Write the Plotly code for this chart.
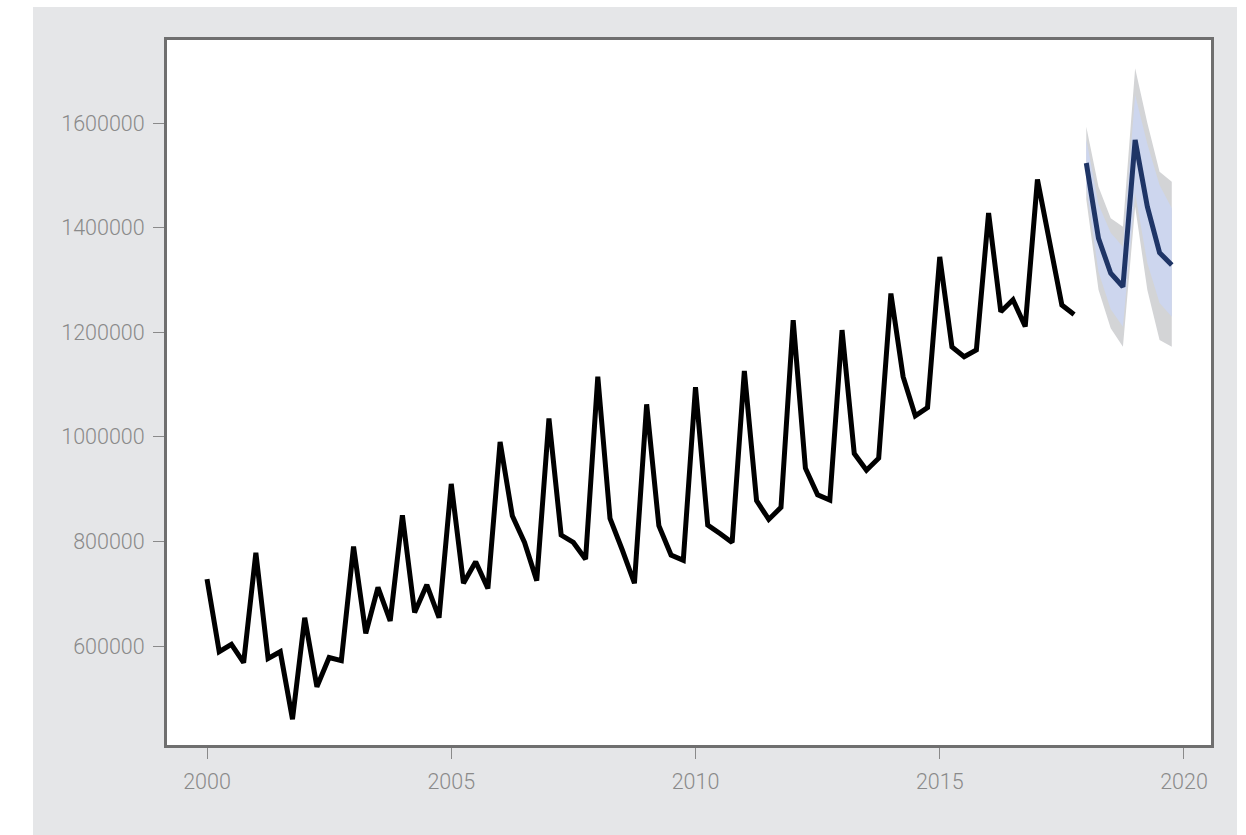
import plotly.graph_objects as go

# Quarterly history, 2000 Q1 - 2017 Q4
start_year = 2000
history = [
    728000, 589000, 603000, 568000,
    778000, 576000, 589000, 460000,
    654000, 522000, 578000, 572000,
    790000, 624000, 712000, 648000,
    850000, 664000, 717000, 654000,
    910000, 720000, 761000, 710000,
    990000, 849000, 798000, 725000,
    1035000, 812000, 798000, 766000,
    1115000, 844000, 784000, 720000,
    1062000, 830000, 774000, 764000,
    1095000, 831000, 815000, 798000,
    1126000, 878000, 842000, 865000,
    1223000, 940000, 889000, 879000,
    1204000, 968000, 936000, 959000,
    1274000, 1115000, 1040000, 1056000,
    1344000, 1172000, 1153000, 1166000,
    1428000, 1239000, 1262000, 1211000,
    1492000, 1372000, 1252000, 1234000,
]

# Forecast 2018 Q1 - 2019 Q4 with 80% and 95% intervals
fc_mean = [1523500, 1379500, 1312600, 1287000, 1567500, 1440000, 1352000, 1328500]
fc_lo80 = [1478000, 1315000, 1244000, 1210600, 1466000, 1332300, 1255800, 1229700]
fc_hi80 = [1569000, 1444000, 1390000, 1363500, 1653500, 1560000, 1481500, 1436900]
fc_lo95 = [1454000, 1281000, 1207500, 1172300, 1440000, 1280700, 1185100, 1172300]
fc_hi95 = [1593000, 1478000, 1417700, 1401800, 1704600, 1600000, 1506900, 1487800]

x_ticks = [2000, 2005, 2010, 2015, 2020]
y_ticks = [600000, 800000, 1000000, 1200000, 1400000, 1600000]

x_hist = [start_year + i / 4 for i in range(len(history))]
x_fc = [start_year + (len(history) + i) / 4 for i in range(len(fc_mean))]

GRAY_BAND = "#d3d4d6"
BLUE_BAND = "#cdd6ee"
NAVY = "#1f3566"
FRAME = "#6f6f6f"
LABEL = "#8a8a8a"

fig = go.Figure()

# 95% interval
fig.add_trace(go.Scatter(x=x_fc, y=fc_lo95, mode="lines", line=dict(width=0),
                         hoverinfo="skip", showlegend=False))
fig.add_trace(go.Scatter(x=x_fc, y=fc_hi95, mode="lines", line=dict(width=0),
                         fill="tonexty", fillcolor=GRAY_BAND,
                         hoverinfo="skip", showlegend=False))
# 80% interval
fig.add_trace(go.Scatter(x=x_fc, y=fc_lo80, mode="lines", line=dict(width=0),
                         hoverinfo="skip", showlegend=False))
fig.add_trace(go.Scatter(x=x_fc, y=fc_hi80, mode="lines", line=dict(width=0),
                         fill="tonexty", fillcolor=BLUE_BAND,
                         hoverinfo="skip", showlegend=False))
# point forecast
fig.add_trace(go.Scatter(x=x_fc, y=fc_mean, mode="lines",
                         line=dict(color=NAVY, width=5), showlegend=False))
# observed series
fig.add_trace(go.Scatter(x=x_hist, y=history, mode="lines",
                         line=dict(color="black", width=5), showlegend=False))

W, H = 1246, 835
L, R, T, B = 167, 1211, 40, 745
pw, ph = R - L, B - T


def px_x(p):
    return (p - L) / pw


def px_y(p):
    return (B - p) / ph


fig.add_shape(type="rect", xref="paper", yref="paper",
              x0=px_x(33), x1=px_x(1237), y0=px_y(835), y1=px_y(7),
              fillcolor="#e5e6e8", line=dict(width=0), layer="below")
fig.add_shape(type="rect", xref="paper", yref="paper",
              x0=0, x1=1, y0=0, y1=1,
              fillcolor="white", line=dict(width=0), layer="below")

tick_font = dict(family="Roboto, sans-serif", size=21.5, color=LABEL, weight=300)

fig.update_layout(
    width=W, height=H,
    margin=dict(l=L, r=W - R, t=T, b=H - B, pad=0),
    paper_bgcolor="white",
    plot_bgcolor="white",
    showlegend=False,
    xaxis=dict(
        range=[1999.181, 2020.553],
        tickvals=x_ticks, ticktext=[str(v) for v in x_ticks],
        showgrid=False, zeroline=False,
        showline=True, mirror=True, linecolor=FRAME, linewidth=3,
        ticks="outside", ticklen=11, tickwidth=1.2, tickcolor=LABEL,
        tickfont=tick_font, ticklabelstandoff=4,
    ),
    yaxis=dict(
        range=[410700, 1758700],
        tickvals=y_ticks, ticktext=[str(v) for v in y_ticks],
        showgrid=False, zeroline=False,
        showline=True, mirror=True, linecolor=FRAME, linewidth=3,
        ticks="outside", ticklen=11, tickwidth=1.2, tickcolor=LABEL,
        tickfont=tick_font, ticklabelstandoff=4,
    ),
)

fig.write_html("out.html")
